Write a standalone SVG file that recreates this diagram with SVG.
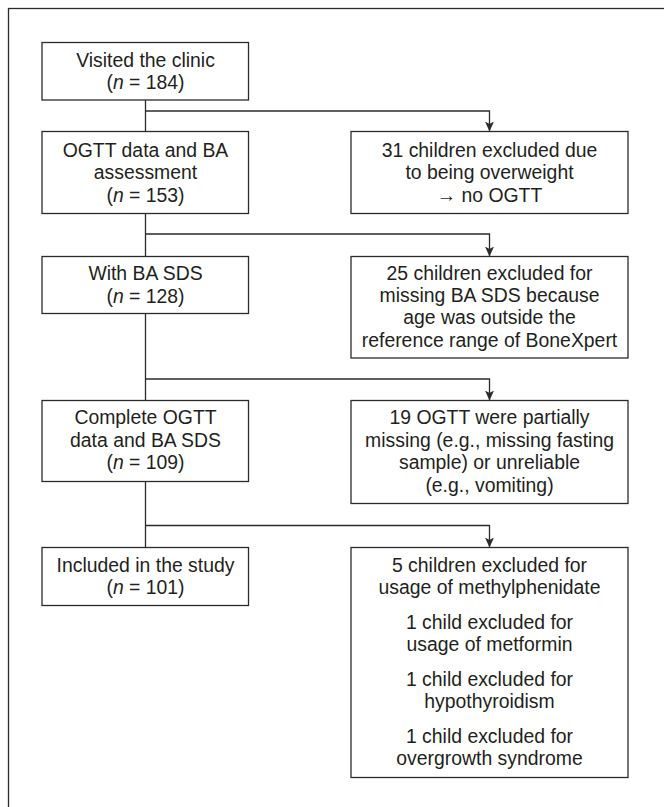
<svg xmlns="http://www.w3.org/2000/svg" width="664" height="807" viewBox="0 0 664 807">
<style>
.box{fill:#fff;stroke:#2b2b2b;stroke-width:1.3}
.ln{fill:none;stroke:#2b2b2b;stroke-width:1.3}
text{font-family:"Liberation Sans",Arial,sans-serif;font-size:19.4px;fill:#231f20;text-anchor:middle}
.i{font-style:italic}
</style>
<defs>
<marker id="ah" viewBox="0 0 10 14" refX="10" refY="7" markerWidth="10" markerHeight="14" markerUnits="userSpaceOnUse" orient="auto">
<path d="M0,2.5 L10,7 L0,11.5 L2.5,7 Z" fill="#2b2b2b"/>
</marker>
</defs>
<rect x="8.5" y="8.5" width="700" height="850" class="ln"/>
<g id="connectors">
<path class="ln" d="M145.5,100 V547.5"/>
<path class="ln" d="M145.5,111 H489.5 V131.5" marker-end="url(#ah)"/>
<path class="ln" d="M145.5,234 H489.5 V256.5" marker-end="url(#ah)"/>
<path class="ln" d="M145.5,379 H489.5 V400.5" marker-end="url(#ah)"/>
<path class="ln" d="M145.5,525.5 H489.5 V547.5" marker-end="url(#ah)"/>
</g>
<g id="n1">
<rect class="box" x="42" y="42.5" width="206.5" height="57.5"/>
<text x="145.5" y="66.5">Visited the clinic</text>
<text x="145.5" y="89">(<tspan class="i">n</tspan> = 184)</text>
</g>
<g id="n2">
<rect class="box" x="42" y="131.5" width="206.5" height="82"/>
<text x="145.5" y="156.5">OGTT data and BA</text>
<text x="145.5" y="179">assessment</text>
<text x="145.5" y="201.5">(<tspan class="i">n</tspan> = 153)</text>
</g>
<g id="x1">
<rect class="box" x="351" y="131.5" width="277" height="82"/>
<text x="489.5" y="156.5">31 children excluded due</text>
<text x="489.5" y="179">to being overweight</text>
<text x="489.5" y="201.5">→ no OGTT</text>
</g>
<g id="n3">
<rect class="box" x="42" y="256.5" width="206.5" height="57"/>
<text x="145.5" y="280">With BA SDS</text>
<text x="145.5" y="302.5">(<tspan class="i">n</tspan> = 128)</text>
</g>
<g id="x2">
<rect class="box" x="351" y="256.5" width="277" height="101.5"/>
<text x="489.5" y="280">25 children excluded for</text>
<text x="489.5" y="302.1">missing BA SDS because</text>
<text x="489.5" y="324.3">age was outside the</text>
<text x="489.5" y="346.6">reference range of BoneXpert</text>
</g>
<g id="n4">
<rect class="box" x="42" y="400.5" width="206.5" height="81"/>
<text x="145.5" y="424.3">Complete OGTT</text>
<text x="145.5" y="446.7">data and BA SDS</text>
<text x="145.5" y="469.3">(<tspan class="i">n</tspan> = 109)</text>
</g>
<g id="x3">
<rect class="box" x="351" y="400.5" width="277" height="103"/>
<text x="489.5" y="424.3">19 OGTT were partially</text>
<text x="489.5" y="446.7">missing (e.g., missing fasting</text>
<text x="489.5" y="469">sample) or unreliable</text>
<text x="489.5" y="491.5">(e.g., vomiting)</text>
</g>
<g id="n5">
<rect class="box" x="42" y="547.5" width="206.5" height="58"/>
<text x="145.5" y="571.7">Included in the study</text>
<text x="145.5" y="594.3">(<tspan class="i">n</tspan> = 101)</text>
</g>
<g id="x4">
<rect class="box" x="351" y="547.5" width="277" height="230"/>
<text x="489.5" y="571.7">5 children excluded for</text>
<text x="489.5" y="594">usage of methylphenidate</text>
<text x="489.5" y="629">1 child excluded for</text>
<text x="489.5" y="651.2">usage of metformin</text>
<text x="489.5" y="685.8">1 child excluded for</text>
<text x="489.5" y="708">hypothyroidism</text>
<text x="489.5" y="742.7">1 child excluded for</text>
<text x="489.5" y="765">overgrowth syndrome</text>
</g>
</svg>
